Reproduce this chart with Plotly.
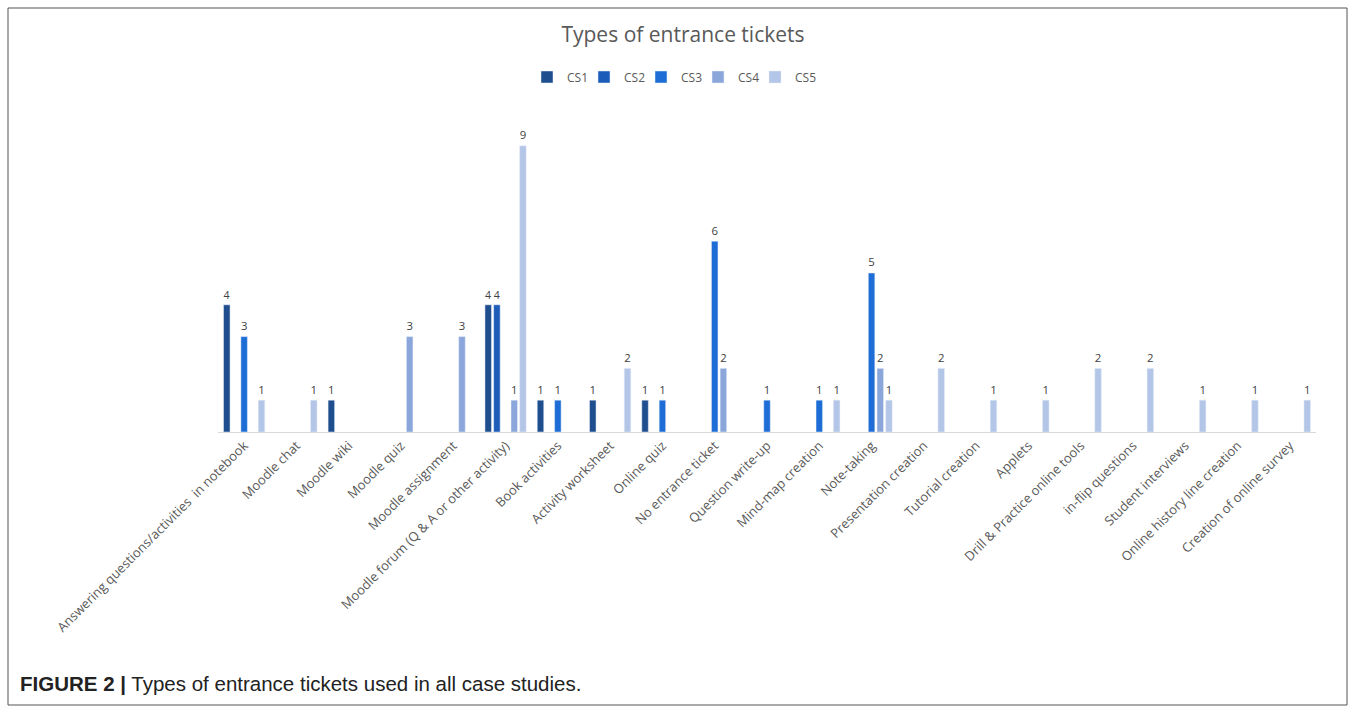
import plotly.graph_objects as go

categories = [
    "Answering questions/activities  in notebook", "Moodle chat", "Moodle wiki",
    "Moodle quiz", "Moodle assignment", "Moodle forum (Q & A or other activity)",
    "Book activities", "Activity worksheet", "Online quiz", "No entrance ticket",
    "Question write-up", "Mind-map creation", "Note-taking", "Presentation creation",
    "Tutorial creation", "Applets", "Drill & Practice online tools", "in-flip questions",
    "Student interviews", "Online history line creation", "Creation of online survey",
]
N = None
cs1 = [4, N, 1, N, N, 4, 1, 1, 1, N, N, N, N, N, N, N, N, N, N, N, N]
cs2 = [N, N, N, N, N, 4, N, N, N, N, N, N, N, N, N, N, N, N, N, N, N]
cs3 = [3, N, N, N, N, N, 1, N, 1, 6, 1, 1, 5, N, N, N, N, N, N, N, N]
cs4 = [N, N, N, 3, 3, 1, N, N, N, 2, N, N, 2, N, N, N, N, N, N, N, N]
cs5 = [1, 1, N, N, N, 9, N, 2, N, N, N, 1, 1, 2, 1, 1, 2, 2, 1, 1, 1]
series_names = ["CS1", "CS2", "CS3", "CS4", "CS5"]
series_values = [cs1, cs2, cs3, cs4, cs5]
colors = ["#1F4E8F", "#1D5CB8", "#1E6DD6", "#8BA6DA", "#B4C6E8"]

W, H = 1356, 724
L, R, T, B = 218, 1316, 114, 432

def px_x(p):
    return (p - L) / (R - L)

def px_y(p):
    return (B - p) / (B - T)

fig = go.Figure()
for name, vals, col in zip(series_names, series_values, colors):
    fig.add_trace(go.Bar(
        name=name, x=categories, y=vals, marker_color=col,
        text=[("" if v is None else str(v)) for v in vals],
        textposition="outside", cliponaxis=False,
        textfont=dict(family="Open Sans", size=13, color="#404040"),
    ))

# invisible trailing legend entry that only reserves room so "CS5" is not clipped
fig.add_trace(go.Scatter(x=[None], y=[None], name=" ", mode="markers",
                         marker=dict(color="rgba(0,0,0,0)"), hoverinfo="skip"))

fig.update_layout(
    width=W, height=H,
    margin=dict(l=L, r=W - R, t=T, b=H - B),
    barmode="group", bargap=0.17, bargroupgap=0.25,
    plot_bgcolor="white", paper_bgcolor="white",
    font=dict(family="Open Sans", color="#595959"),
    title=dict(text="Types of entrance tickets", x=683 / W, xanchor="center",
               y=1 - 35 / H, yanchor="middle",
               font=dict(family="Open Sans", size=21, color="#595959")),
    legend=dict(orientation="h", x=px_x(698), xanchor="center", y=px_y(77),
                yanchor="middle", font=dict(size=12, color="#595959"),
                itemwidth=30, entrywidth=12, entrywidthmode="pixels",
                traceorder="normal"),
    showlegend=True,
)
fig.update_xaxes(tickangle=-45, tickfont=dict(family="Open Sans", size=13, color="#595959"),
                 showline=True, linecolor="#D9D9D9", linewidth=1, ticks="",
                 showgrid=False, range=[-0.5, 20.5])
fig.update_yaxes(range=[0, 10], visible=False, showgrid=False)

# outer border box
fig.add_shape(type="rect", xref="paper", yref="paper",
              x0=px_x(8), x1=px_x(1347), y0=px_y(705), y1=px_y(8),
              line=dict(color="#555555", width=1), fillcolor="rgba(0,0,0,0)")

fig.add_annotation(xref="paper", yref="paper", x=px_x(18), y=px_y(683),
                   xanchor="left", yanchor="middle", showarrow=False,
                   text="<b>FIGURE 2 |</b> Types of entrance tickets used in all case studies.",
                   font=dict(family="Liberation Sans", size=20.5, color="#222222"))

fig.write_html("out.html")
